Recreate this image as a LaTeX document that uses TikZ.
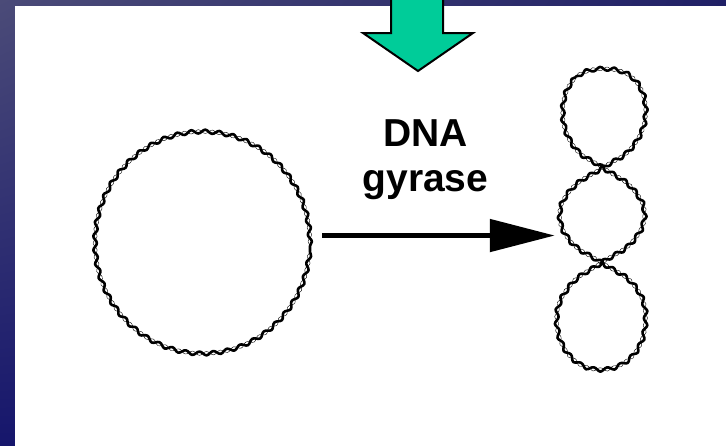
\documentclass[tikz,border=0pt]{standalone}
\usepackage{fontspec}
\setmainfont{Liberation Sans}
\usetikzlibrary{arrows.meta,decorations.pathmorphing,shadings,positioning}

\definecolor{navylight}{RGB}{75,75,120}
\definecolor{navydark}{RGB}{22,22,108}
\definecolor{navyright}{RGB}{32,32,102}
\definecolor{stepgreen}{RGB}{0,204,153}

\begin{document}
\begin{tikzpicture}[x=1pt, y=-1pt,
			dna/.style={line width=2.6pt, line join=round,
				preaction={draw, decorate, decoration={snake, amplitude=1.9pt, segment length=14pt}},
				postaction={draw, decorate, decoration={snake, amplitude=1.9pt, segment length=14pt, mirror}}},
			reaction/.style={line width=5pt, -{Triangle[length=65pt, width=32pt]}},
			label text/.style={font=\bfseries\fontsize{39}{45}\selectfont, align=center, inner sep=0pt}]
			\useasboundingbox (0,0) rectangle (726,445);
			%slide background
			\shade[upper left=navylight, upper right=navyright, lower left=navydark, lower right=navydark] (0,0) rectangle (726,445);
			\fill[white] (15,6) rectangle (727,446);
			%green step arrow
			\filldraw[fill=stepgreen, line width=2pt] (391,-5) -- (391,33) -- (363,33) -- (418,71) -- (473,33) -- (443,33) -- (443,-5) -- cycle;
			%relaxed and supercoiled dna
			\node[circle, minimum size=240pt, inner sep=0pt] (relaxed) at (202.5,246) {};
			\node[minimum width=98pt, minimum height=310pt, inner sep=0pt] (supercoiled) at (604,216) {};
			\path[dna] (relaxed.center) circle[x radius=107.5pt, y radius=111pt];
			\path[dna] plot[smooth cycle, tension=0.7] coordinates {(606,66) (576,77) (565,111) (577,145) (605,165)
				(634,185) (647,212) (634,240) (604,260)
				(573,282) (559,315) (571,352) (603,367) (636,352) (648,315) (636,282) (604,260)
				(574,240) (562,212) (575,185) (605,165)
				(634,145) (648,111) (637,77)};
			%gyrase reaction
			\draw[reaction] (relaxed.5) -- (relaxed.5 -| supercoiled.west);
			\node[label text, anchor=north] (enzyme) at (425.5,119) {DNA\\gyrase};
		\end{tikzpicture}
\end{document}
